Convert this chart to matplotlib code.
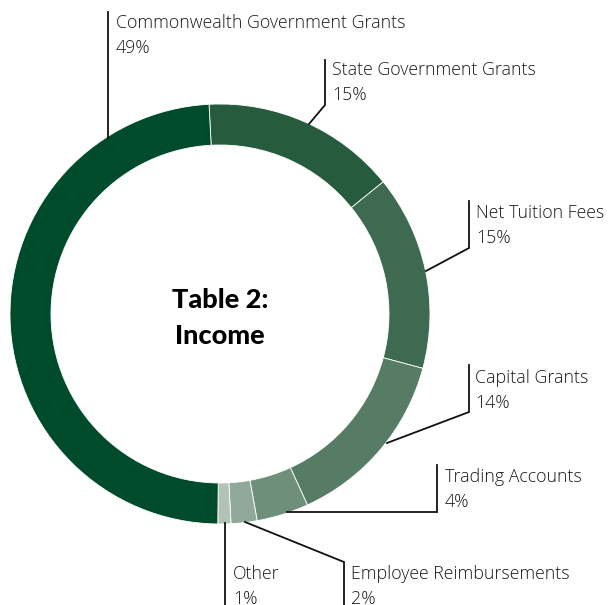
import matplotlib
matplotlib.use("Agg")
import matplotlib.pyplot as plt
from matplotlib import font_manager

# Income breakdown (share of total, %)
categories = ["State Government Grants", "Net Tuition Fees", "Capital Grants",
              "Trading Accounts", "Employee Reimbursements", "Other",
              "Commonwealth Government Grants"]
shares = [15, 15, 14, 4, 2, 1, 49]
colors = ["#275b3e", "#3d6a50", "#577c65", "#6f8f7a", "#91a998", "#b2c3b6", "#004b2c"]

W, H = 608, 605
fig = plt.figure(figsize=(W / 100, H / 100), dpi=100)
ax = fig.add_axes([0, 0, 1, 1])


def py(y):
    # convert top-down pixel row to axis y
    return H - y


cx, cy, R = 220, 314, 210
ax.pie(shares, colors=colors, startangle=93, counterclock=False,
       center=(cx, py(cy)), radius=R, frame=True,
       wedgeprops=dict(width=41, edgecolor="white", linewidth=0.6))
ax.set_xlim(0, W)
ax.set_ylim(0, H)
ax.set_aspect("auto")
ax.axis("off")

fams = {f.name for f in font_manager.fontManager.ttflist}
label_font = "Open Sans" if "Open Sans" in fams else "DejaVu Sans"
title_font = "Lato" if "Lato" in fams else "DejaVu Sans"

# leader line paths (pixel rows from top) and text anchors
leaders = {
    "Commonwealth Government Grants": ([(108, 138), (108, 12)], (116, 23)),
    "State Government Grants": ([(309, 124), (325, 105), (325, 60)], (332, 70)),
    "Net Tuition Fees": ([(426, 271), (469, 248), (469, 201)], (476, 213)),
    "Capital Grants": ([(387, 443), (469, 412), (469, 365)], (475, 378)),
    "Trading Accounts": ([(287, 512), (437, 512), (437, 465)], (445, 477)),
    "Employee Reimbursements": ([(245, 522), (344, 562), (344, 605)], (351, 574)),
    "Other": ([(225, 523), (225, 605)], (233, 574)),
}

for name, val in zip(categories, shares):
    pts, (tx, ty) = leaders[name]
    ax.plot([p[0] for p in pts], [py(p[1]) for p in pts], color="#111111",
            lw=1.3, solid_joinstyle="miter", clip_on=False)
    ax.text(tx, py(ty), name, fontsize=12.8, family=label_font, weight="light",
            color="#1a1a1a", va="center", ha="left")
    ax.text(tx, py(ty + 25), f"{val}%", fontsize=12.8, family=label_font,
            weight="light", color="#1a1a1a", va="center", ha="left")

ax.text(cx, py(300), "Table 2:", fontsize=19.5, family=title_font, weight="black",
        ha="center", va="center", color="#000000")
ax.text(cx, py(336), "Income", fontsize=19.5, family=title_font, weight="black",
        ha="center", va="center", color="#000000")

fig.savefig("out.png", dpi=100, facecolor="white")
